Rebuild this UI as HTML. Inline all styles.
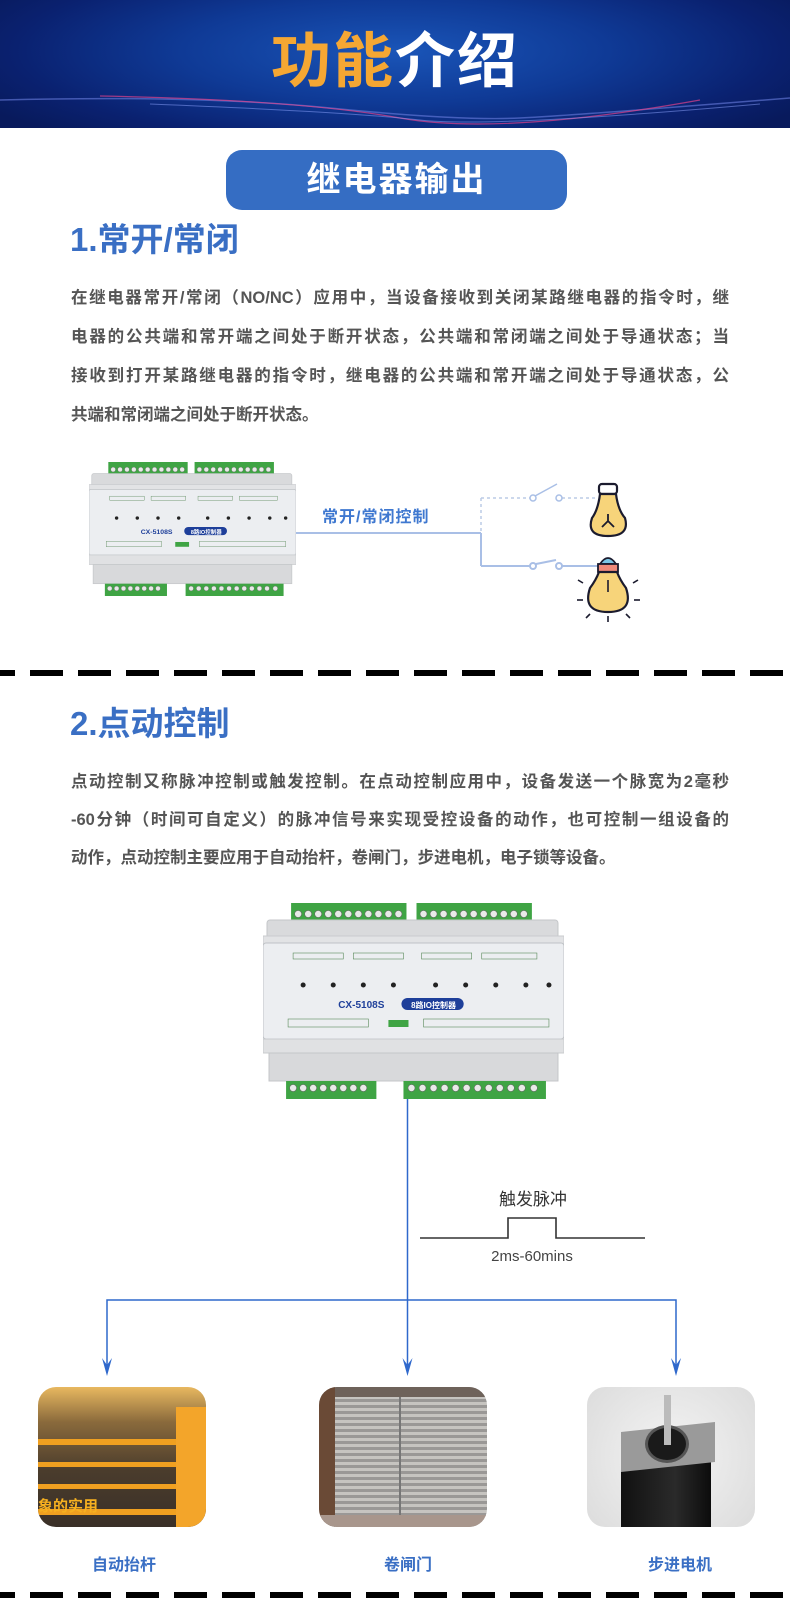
<!DOCTYPE html>
<html><head><meta charset="utf-8"><style>
*{margin:0;padding:0;box-sizing:border-box}
body{width:790px;height:1598px;position:relative;background:#fff;overflow:hidden;font-family:"Liberation Sans","Noto Sans CJK SC",sans-serif}
.abs{position:absolute}
.hdr{left:0;top:0;width:790px;height:128px;background:radial-gradient(ellipse 60% 90% at 50% 40%,#1a55b8 0%,#0f3a96 45%,#0a2170 80%,#081a5c 100%);overflow:hidden}
.title{left:0;width:790px;top:22px;text-align:center;font-size:60px;font-weight:bold;line-height:80px;letter-spacing:2px}
.pill{left:226px;top:150px;width:341px;height:60px;border-radius:16px;background:#356dc3;color:#fff;font-size:34px;font-weight:bold;text-align:center;line-height:60px;letter-spacing:2px}
.h2{left:70px;font-size:33px;font-weight:bold;color:#3a6fc4;line-height:44px}
.p{left:71px;width:658px;font-size:16.5px;color:#555;line-height:22px;font-weight:bold;text-align:justify;text-align-last:justify;white-space:nowrap}
.pl{text-align-last:left}
.dash{left:-18px;width:830px;height:6px;background:repeating-linear-gradient(90deg,#000 0 33px,transparent 33px 48px)}
.lab{font-size:16px;font-weight:bold;color:#3a6fc4;text-align:center;width:120px}
.photo{top:1387px;width:168px;height:140px;border-radius:18px;overflow:hidden}
</style></head><body>
<div class="abs hdr">
<svg width="790" height="128" class="abs" style="left:0;top:0">
<path d="M0 100 Q200 95 330 108 T520 118 T790 98" stroke="#6a7fe0" stroke-width="1.5" fill="none" opacity=".6"/>
<path d="M100 96 Q300 100 400 118 T700 100" stroke="#e0418a" stroke-width="1.2" fill="none" opacity=".7"/>
<path d="M150 104 Q350 112 420 120 T760 104" stroke="#8fa5ff" stroke-width="1" fill="none" opacity=".5"/>
</svg>
</div>
<div class="abs title"><span style="color:#f5a733">功能</span><span style="color:#fff">介绍</span></div>
<div class="abs pill">继电器输出</div>
<div class="abs h2" style="top:218px">1.常开/常闭</div>
<div class="abs p" style="top:287px">在继电器常开/常闭（NO/NC）应用中，当设备接收到关闭某路继电器的指令时，继</div>
<div class="abs p" style="top:326px">电器的公共端和常开端之间处于断开状态，公共端和常闭端之间处于导通状态；当</div>
<div class="abs p" style="top:365px">接收到打开某路继电器的指令时，继电器的公共端和常开端之间处于导通状态，公</div>
<div class="abs p pl" style="top:404px">共端和常闭端之间处于断开状态。</div>

<svg width="0" height="0" class="abs"><defs>
<symbol id="dev" viewBox="0 0 300 196" preserveAspectRatio="none">
<rect x="28" y="0" width="115" height="18" fill="#3fa444"/><rect x="153" y="0" width="115" height="18" fill="#3fa444"/>
<g fill="#e8eae8" stroke="#666" stroke-width=".6">
<circle cx="35" cy="11" r="3.5"/><circle cx="45" cy="11" r="3.5"/><circle cx="55" cy="11" r="3.5"/><circle cx="65" cy="11" r="3.5"/><circle cx="75" cy="11" r="3.5"/><circle cx="85" cy="11" r="3.5"/><circle cx="95" cy="11" r="3.5"/><circle cx="105" cy="11" r="3.5"/><circle cx="115" cy="11" r="3.5"/><circle cx="125" cy="11" r="3.5"/><circle cx="135" cy="11" r="3.5"/>
<circle cx="160" cy="11" r="3.5"/><circle cx="170" cy="11" r="3.5"/><circle cx="180" cy="11" r="3.5"/><circle cx="190" cy="11" r="3.5"/><circle cx="200" cy="11" r="3.5"/><circle cx="210" cy="11" r="3.5"/><circle cx="220" cy="11" r="3.5"/><circle cx="230" cy="11" r="3.5"/><circle cx="240" cy="11" r="3.5"/><circle cx="250" cy="11" r="3.5"/><circle cx="260" cy="11" r="3.5"/>
</g>
<rect x="4" y="17" width="290" height="28" rx="3" fill="#d9dadc" stroke="#c4c6c9"/>
<rect x="0" y="33" width="300" height="12" fill="#e2e3e5" stroke="#c9cbce"/>
<rect x="0" y="40" width="300" height="96" rx="3" fill="#eceef1" stroke="#bfc2c6"/>
<rect x="0" y="136" width="300" height="14" fill="#e0e1e3" stroke="#c9cbce"/>
<rect x="6" y="150" width="288" height="28" fill="#d8d9db" stroke="#c4c6c9"/>
<rect x="23" y="178" width="90" height="18" fill="#3fa444"/><rect x="140" y="178" width="142" height="18" fill="#3fa444"/>
<g fill="#e8eae8" stroke="#666" stroke-width=".6">
<circle cx="30" cy="185" r="3.5"/><circle cx="40" cy="185" r="3.5"/><circle cx="50" cy="185" r="3.5"/><circle cx="60" cy="185" r="3.5"/><circle cx="70" cy="185" r="3.5"/><circle cx="80" cy="185" r="3.5"/><circle cx="90" cy="185" r="3.5"/><circle cx="100" cy="185" r="3.5"/>
<circle cx="148" cy="185" r="3.5"/><circle cx="159" cy="185" r="3.5"/><circle cx="170" cy="185" r="3.5"/><circle cx="181" cy="185" r="3.5"/><circle cx="192" cy="185" r="3.5"/><circle cx="203" cy="185" r="3.5"/><circle cx="214" cy="185" r="3.5"/><circle cx="225" cy="185" r="3.5"/><circle cx="236" cy="185" r="3.5"/><circle cx="247" cy="185" r="3.5"/><circle cx="258" cy="185" r="3.5"/><circle cx="270" cy="185" r="3.5"/>
</g>
<g fill="none" stroke="#5a8a5a" stroke-width=".6">
<rect x="30" y="50" width="50" height="6"/><rect x="90" y="50" width="50" height="6"/><rect x="158" y="50" width="50" height="6"/><rect x="218" y="50" width="55" height="6"/>
<rect x="25" y="116" width="80" height="8"/><rect x="160" y="116" width="125" height="8"/>
</g>
<g fill="#222"><circle cx="40" cy="82" r="2.5"/><circle cx="70" cy="82" r="2.5"/><circle cx="100" cy="82" r="2.5"/><circle cx="130" cy="82" r="2.5"/><circle cx="172" cy="82" r="2.5"/><circle cx="202" cy="82" r="2.5"/><circle cx="232" cy="82" r="2.5"/><circle cx="262" cy="82" r="2.5"/><circle cx="285" cy="82" r="2.5"/></g>
<rect x="125" y="117" width="20" height="7" fill="#3fa444"/>
<rect x="138" y="95" width="62" height="12" rx="6" fill="#1e3f9a"/>
<text x="98" y="105" font-size="10" fill="#1e3f9a" font-weight="bold" font-family="Liberation Sans" text-anchor="middle">CX-5108S</text>
<text x="170" y="105" font-size="8" fill="#fff" font-weight="bold" font-family="Liberation Sans,Noto Sans CJK SC" text-anchor="middle">8路IO控制器</text>
</symbol>
</defs></svg>

<svg class="abs" style="left:89px;top:462px" width="207" height="134"><use href="#dev" width="207" height="134"/></svg>
<div class="abs" style="left:322px;top:503px;font-size:16px;font-weight:bold;color:#3f78d0;letter-spacing:1px">常开/常闭控制</div>
<svg class="abs" style="left:0;top:440px" width="790" height="200">
<g stroke="#a9bfe6" stroke-width="2" fill="#fff">
<line x1="296" y1="93" x2="481" y2="93"/>
<line x1="481" y1="93" x2="481" y2="126"/>
<line x1="481" y1="126" x2="530" y2="126"/><circle cx="533" cy="126" r="3"/>
<line x1="536" y1="124" x2="556" y2="120"/><circle cx="559" cy="126" r="3"/>
<line x1="562" y1="126" x2="600" y2="126"/>
</g>
<g stroke="#bccbe6" stroke-width="1.5" stroke-dasharray="3 3" fill="none">
<line x1="481" y1="58" x2="481" y2="93"/><line x1="481" y1="58" x2="530" y2="58"/><line x1="562" y1="58" x2="598" y2="58"/>
</g>
<g stroke="#a9bfe6" stroke-width="1.5" fill="#fff"><circle cx="533" cy="58" r="3"/><circle cx="559" cy="58" r="3"/><line x1="535" y1="56" x2="557" y2="44"/></g>
<g stroke="#1b1b2e" stroke-width="2.2">
<rect x="599" y="44" width="18" height="10" rx="3" fill="#fff"/>
<path d="M600 54 L616 54 Q618 70 625 78 Q630 96 608 96 Q586 96 592 78 Q598 70 600 54Z" fill="#f7d47a"/>
<path d="M608 74 L608 81 L602 87 M608 81 L614 87" fill="none" stroke-width="1.8"/>
<path d="M600 124 Q608 112 616 124Z" fill="#7cc6e6" stroke-width="1.8"/>
<rect x="598" y="124" width="20" height="8" fill="#f08a7a" stroke-width="1.8"/>
<path d="M599 132 L617 132 Q620 140 626 148 Q634 172 608 172 Q582 172 590 148 Q596 140 599 132Z" fill="#f7d47a"/>
<line x1="608" y1="140" x2="608" y2="152" stroke-width="1.6"/>
<g stroke-width="1.6"><line x1="583" y1="143" x2="578" y2="140"/><line x1="633" y1="143" x2="638" y2="140"/><line x1="577" y1="160" x2="583" y2="160"/><line x1="634" y1="160" x2="640" y2="160"/><line x1="590" y1="174" x2="586" y2="178"/><line x1="626" y1="174" x2="630" y2="178"/><line x1="608" y1="176" x2="608" y2="182"/></g>
</g>
</svg>

<div class="abs dash" style="top:670px"></div>
<div class="abs h2" style="top:702px">2.点动控制</div>
<div class="abs p" style="top:771px">点动控制又称脉冲控制或触发控制。在点动控制应用中，设备发送一个脉宽为2毫秒</div>
<div class="abs p" style="top:809px">-60分钟（时间可自定义）的脉冲信号来实现受控设备的动作，也可控制一组设备的</div>
<div class="abs p pl" style="top:847px">动作，点动控制主要应用于自动抬杆，卷闸门，步进电机，电子锁等设备。</div>

<svg class="abs" style="left:263px;top:903px" width="301" height="196"><use href="#dev" width="301" height="196"/></svg>
<svg class="abs" style="left:0;top:1080px" width="790" height="310">
<g stroke="#2f68cc" stroke-width="1.5" fill="none">
<line x1="407.5" y1="19" x2="407.5" y2="288"/>
<polyline points="107,288 107,220 676,220 676,288"/>
</g>
<g fill="#2f68cc">
<polygon points="102,278 107,296 112,278 107,285"/>
<polygon points="402.5,278 407.5,296 412.5,278 407.5,285"/>
<polygon points="671,278 676,296 681,278 676,285"/>
</g>
<polyline points="420,158 508,158 508,138 556,138 556,158 645,158" stroke="#333" stroke-width="1.6" fill="none"/>
<text x="533" y="125" font-size="17" fill="#333" text-anchor="middle" font-family="Liberation Sans,Noto Sans CJK SC">触发脉冲</text>
<text x="532" y="181" font-size="15" fill="#444" text-anchor="middle" font-family="Liberation Sans">2ms-60mins</text>
</svg>

<div class="abs photo" style="left:38px;background:linear-gradient(180deg,#e8b860 0%,#8a6a3c 25%,#4a3c2c 60%,#3a3028 100%)">
<div class="abs" style="left:0;top:52px;width:140px;height:6px;background:#f0a020"></div>
<div class="abs" style="left:0;top:75px;width:140px;height:5px;background:#f0a020"></div>
<div class="abs" style="left:0;top:97px;width:140px;height:5px;background:#f0a020"></div>
<div class="abs" style="left:0;top:122px;width:140px;height:6px;background:#f0a020"></div>
<div class="abs" style="left:138px;top:20px;width:30px;height:120px;background:#f3a52a"></div>
<div class="abs" style="left:0;top:108px;font-size:15px;font-weight:bold;color:#f6b020">象的实用</div>
</div>
<div class="abs photo" style="left:319px;background:repeating-linear-gradient(180deg,#9a9896 0 3px,#c6c4c0 3px 6px)">
<div class="abs" style="left:0;top:0;width:168px;height:10px;background:#6e625a"></div>
<div class="abs" style="left:0;top:0;width:16px;height:140px;background:#6a4a36"></div>
<div class="abs" style="left:80px;top:10px;width:2px;height:128px;background:#777"></div>
<div class="abs" style="left:0;top:128px;width:168px;height:12px;background:#a8968c"></div>
</div>
<div class="abs photo" style="left:587px;background:radial-gradient(circle at 50% 50%,#f4f4f4,#dcdcdc)">
<div class="abs" style="left:34px;top:55px;width:90px;height:85px;background:linear-gradient(90deg,#111,#2a2a2a 60%,#0c0c0c)"></div>
<div class="abs" style="left:34px;top:40px;width:94px;height:40px;background:#9a9a9a;transform:skewY(-6deg)"></div>
<div class="abs" style="left:58px;top:38px;width:44px;height:38px;border-radius:50%;background:#1a1a1a;border:3px solid #555"></div>
<div class="abs" style="left:77px;top:8px;width:7px;height:50px;background:#bbb"></div>
</div>
<div class="abs lab" style="left:64px;top:1551px">自动抬杆</div>
<div class="abs lab" style="left:348px;top:1551px">卷闸门</div>
<div class="abs lab" style="left:620px;top:1551px">步进电机</div>
<div class="abs dash" style="top:1592px"></div>
</body></html>
